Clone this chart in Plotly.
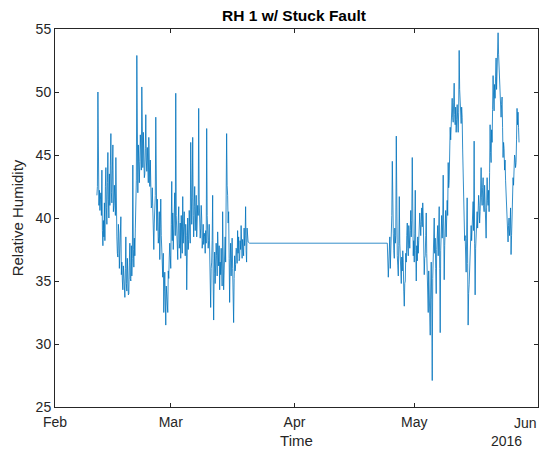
import pandas as pd
import plotly.graph_objects as go

# Segment 1: 3-hourly readings from 2016-02-11 12:00
seg1_start = "2016-02-11 12:00"
seg1_values = [
    41.8, 42.5, 50.0, 43.0, 41.0, 42.2, 40.6, 41.5, 42.0, 40.2, 43.8, 39.0, 37.8, 39.8, 38.5, 41.2, 38.2, 42.5, 44.0, 40.8,
    39.5, 42.8, 45.2, 41.5, 40.0, 43.5, 41.0, 44.2, 46.7, 42.0, 41.2, 43.8, 45.8, 40.5, 41.0, 42.6, 41.6, 40.2, 44.8, 39.0,
    38.5, 37.2, 36.9, 39.5, 38.8, 36.0, 37.5, 38.8, 40.1, 35.5, 36.5, 35.0, 34.3, 36.2, 35.0, 34.0, 33.7, 36.0, 38.5, 34.8,
    34.2, 36.8, 35.5, 33.9, 34.0, 36.5, 38.0, 35.2, 35.0, 37.8, 35.4, 36.8, 44.2, 37.5, 36.1, 38.4, 37.0, 39.2, 40.5, 43.0,
    52.9, 44.5, 42.0, 45.8, 43.6, 42.8, 44.5, 46.6, 45.4, 43.8, 50.4, 45.2, 44.0, 46.8, 45.0, 43.2, 43.5, 45.5, 48.2, 44.6,
    43.7, 45.6, 44.2, 42.8, 46.4, 43.5, 42.5, 44.6, 43.0, 40.8, 41.0, 42.4, 39.5, 38.2, 37.5, 39.6, 40.5, 41.8, 48.0, 42.0,
    39.0, 41.5, 40.2, 38.0, 38.5, 40.5, 36.7, 39.2, 41.5, 38.6, 37.0, 36.0, 35.3, 37.2, 32.5, 34.2, 35.7, 33.8, 31.5, 34.6,
    34.0, 33.2, 32.5, 35.8, 35.2, 36.9, 38.0, 37.0, 36.0, 39.5, 42.9, 38.2, 40.4, 37.5, 39.0, 40.8, 42.0, 38.6, 49.9, 40.2,
    39.0, 38.2, 36.7, 39.8, 40.9, 37.6, 38.0, 39.6, 36.8, 40.2, 38.5, 37.2, 41.7, 38.0, 39.3, 40.5, 38.3, 37.0, 39.5, 38.6,
    34.3, 38.8, 40.0, 37.5, 38.3, 40.6, 39.2, 38.0, 46.0, 40.8, 39.5, 41.6, 46.4, 40.2, 38.5, 40.9, 42.5, 39.0, 40.0, 41.8,
    38.5, 39.6, 41.0, 40.2, 48.7, 41.5, 40.6, 38.4, 39.2, 41.0, 40.0, 37.6, 38.2, 39.5, 37.9, 38.8, 38.5, 37.2, 39.0, 38.0,
    47.1, 40.2, 39.0, 37.6, 38.2, 39.5, 37.0, 35.2, 32.9, 36.0, 36.5, 38.2, 41.8, 35.0, 31.9, 35.6, 37.3, 34.8, 36.2, 38.0,
    37.0, 35.4, 38.9, 36.6, 36.2, 37.8, 34.3, 36.5, 35.5, 37.6, 36.0, 34.6, 40.5, 36.8, 34.3, 35.8, 37.0, 38.5, 36.5, 40.2,
    46.7, 42.6, 41.8, 39.6, 40.5, 36.8, 33.3, 36.5, 38.0, 35.4, 37.0, 38.4, 36.0, 34.5, 31.7, 35.2, 37.0, 35.8, 36.3, 37.6,
    37.5, 36.4, 39.0, 37.2, 38.5, 36.6, 36.8, 38.2, 37.5, 39.4, 38.5, 36.8, 38.3, 37.6, 37.0, 39.2, 37.8, 38.6, 40.9, 37.4,
    36.5, 39.2, 38.3, 38.1,
]

# Stuck fault segment
stuck_dates = ["2016-03-20 18:00", "2016-04-24 06:00"]
stuck_values = [38.0, 38.0]

# Segment 2: 3-hourly readings from 2016-04-24 12:00
seg2_start = "2016-04-24 12:00"
seg2_values = [
    35.3, 36.4, 37.2, 38.5, 36.0, 37.0, 38.8, 40.2, 44.5, 39.5, 38.8, 37.4, 36.8, 39.2, 38.0, 38.6, 46.5, 39.0, 37.0, 36.2,
    35.4, 37.8, 41.7, 38.0, 36.8, 35.6, 34.8, 36.9, 35.8, 37.4, 36.5, 34.2, 33.0, 34.8, 35.0, 37.2, 36.5, 38.6, 39.6, 37.6,
    37.0, 39.4, 38.2, 37.6, 39.0, 40.6, 38.5, 39.8, 44.8, 39.0, 37.0, 38.2, 36.5, 38.8, 42.2, 37.4, 35.0, 37.8, 36.6, 38.5,
    37.2, 38.2, 39.0, 40.4, 39.5, 38.6, 39.7, 40.8, 39.3, 41.2, 40.0, 38.0, 35.5, 36.8, 37.0, 38.6, 40.4, 37.2, 35.6, 34.2,
    32.5, 35.8, 34.0, 33.2, 30.7, 34.6, 36.5, 33.5, 27.1, 35.2, 37.0, 38.6, 40.0, 37.2, 38.4, 36.0, 34.0, 37.5, 38.4, 39.4,
    37.0, 38.2, 40.9, 36.0, 30.9, 37.4, 39.0, 40.2, 38.4, 39.6, 43.4, 38.0, 35.1, 37.8, 39.0, 40.6, 38.5, 39.8, 41.4, 40.2,
    44.4, 42.4, 43.0, 45.6, 47.2, 46.2, 47.8, 48.6, 49.5, 48.0, 47.6, 49.2, 50.7, 48.2, 47.4, 48.8, 46.8, 47.8, 49.0, 48.2,
    46.8, 48.4, 53.3, 50.2, 49.0, 47.6, 47.5, 48.8, 48.0, 45.4, 42.9, 41.2, 39.7, 38.2, 38.6, 37.0, 35.7, 38.4, 41.6, 36.4,
    31.5, 34.0, 34.7, 36.2, 35.5, 37.6, 39.4, 38.2, 39.7, 40.6, 41.3, 39.0, 46.1, 38.0, 33.9, 37.6, 39.5, 38.6, 40.5, 39.2,
    40.0, 41.8, 41.0, 39.6, 40.5, 42.2, 44.0, 41.6, 41.0, 42.4, 43.2, 41.0, 40.5, 42.6, 41.2, 39.8, 38.4, 40.8, 43.2, 41.4,
    41.0, 42.2, 40.5, 43.6, 47.4, 45.2, 44.4, 47.0, 46.0, 48.6, 51.3, 49.6, 48.5, 50.6, 49.5, 51.2, 52.7, 50.2, 51.5, 53.4,
    54.7, 53.0, 52.1, 50.4, 49.0, 48.4, 48.0, 49.0, 49.6, 47.2, 44.8, 46.0, 45.5, 43.8, 44.6, 43.0, 42.1, 41.2, 40.5, 39.2,
    38.1, 39.4, 40.0, 38.6, 39.2, 40.8, 37.1, 38.6, 40.0, 41.8, 43.2, 42.6, 44.2, 45.0, 44.8, 44.0, 44.4, 46.2, 48.7, 47.4,
    48.4, 47.2, 46.0,
]

month_ticks = ["2016-02-01", "2016-03-01", "2016-04-01", "2016-05-01", "2016-06-01"]
month_labels = ["Feb", "Mar", "Apr", "May", "Jun"]
y_ticks = [25, 30, 35, 40, 45, 50, 55]

seg1_dates = pd.date_range(seg1_start, periods=len(seg1_values), freq="3h")
seg2_dates = pd.date_range(seg2_start, periods=len(seg2_values), freq="3h")

x = list(seg1_dates) + list(pd.to_datetime(stuck_dates)) + list(seg2_dates)
y = seg1_values + stuck_values + seg2_values

FONT = "Liberation Sans, Arial, Helvetica, sans-serif"
AX = "#262626"

fig = go.Figure()
fig.add_trace(go.Scatter(x=x, y=y, mode="lines",
                         line=dict(color="#0072BD", width=0.8),
                         showlegend=False))

fig.update_layout(
    width=545, height=455,
    margin=dict(l=55, r=7, t=29, b=48),
    paper_bgcolor="white", plot_bgcolor="white",
    font=dict(family=FONT, size=14, color=AX),
    title=dict(text="RH 1 w/ Stuck Fault", x=(55 + 533) / 2 / 545, xanchor="center",
               y=1 - 16 / 455, yanchor="middle",
               font=dict(family=FONT, size=15.5, color="black", weight="bold")),
)
fig.update_xaxes(
    type="date", range=[month_ticks[0], month_ticks[-1]],
    tickmode="array", tickvals=month_ticks[:-1], ticktext=month_labels[:-1],
    ticks="inside", ticklen=4, tickcolor=AX, tickwidth=1,
    showline=True, linecolor=AX, linewidth=1, mirror="allticks",
    showgrid=False, zeroline=False, ticklabelstandoff=2,
    tickfont=dict(size=14, color=AX),
    title=dict(text="Time", font=dict(size=15, color=AX), standoff=6),
)
fig.update_yaxes(
    range=[25, 55], tickmode="array", tickvals=y_ticks,
    ticks="inside", ticklen=4, tickcolor=AX, tickwidth=1,
    showline=True, linecolor=AX, linewidth=1, mirror="allticks",
    showgrid=False, zeroline=False,
    tickfont=dict(size=14, color=AX),
    title=dict(text="Relative Humidity", font=dict(size=15, color=AX), standoff=8),
)
# Last month label, kept inside the figure like the reference
fig.add_annotation(text=month_labels[-1], xref="paper", yref="paper",
                   x=1.002, y=(407 - 423) / 378,
                   xanchor="right", yanchor="middle", showarrow=False,
                   font=dict(family=FONT, size=14, color=AX))
fig.add_annotation(text="2016", xref="paper", yref="paper",
                   x=(502 - 55) / 478, y=(407 - 441) / 378,
                   xanchor="center", yanchor="middle", showarrow=False,
                   font=dict(family=FONT, size=14, color=AX))

fig.write_html("out.html")
